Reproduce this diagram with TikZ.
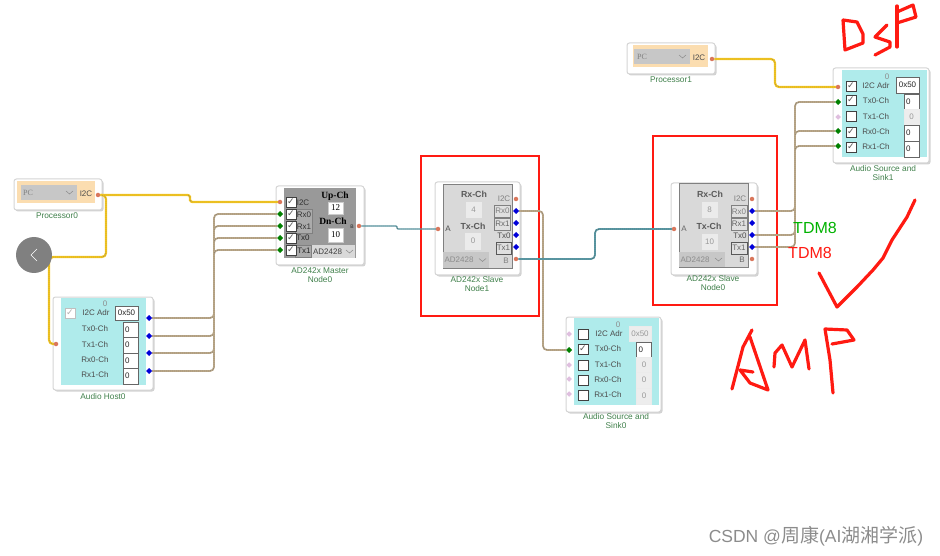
\documentclass[tikz,border=0pt]{standalone}
\usepackage{fontspec}
\setmainfont{Liberation Sans}
\newfontfamily\serifface{Liberation Serif}
\newfontfamily\checkface{DejaVu Sans}
\newfontfamily\cjkface{Noto Sans CJK SC}
\usetikzlibrary{shapes.geometric,shadows}
\definecolor{cardline}{HTML}{D4D4D4}
\definecolor{peach}{HTML}{FBDDB0}
\definecolor{aqua}{HTML}{AFEBEB}
\definecolor{captiongreen}{HTML}{3F7F4A}
\definecolor{portred}{HTML}{D9775C}
\definecolor{wireyellow}{HTML}{F4C51C}
\definecolor{wiretan}{HTML}{BBA888}
\definecolor{wireteal}{HTML}{5A9AA6}
\definecolor{markred}{HTML}{FF1A12}
\begin{document}
\begin{tikzpicture}[x=1pt,y=-1pt,
every node/.style={inner sep=0pt, outer sep=0pt, font=\fontsize{8}{9}\selectfont, text=black!70},
card/.style={rectangle, draw=cardline, fill=white, line width=1pt, rounded corners=2.5pt,
  drop shadow={shadow xshift=1.5pt, shadow yshift=-1.5pt, fill=black!25, opacity=.7}},
slavebody/.style={rectangle, draw=black!50, fill=black!15, minimum width=69pt, minimum height=84pt},
combo/.style={rectangle, fill=black!22, text=black!45, align=left},
valbox/.style={rectangle, draw=black!60, fill=white, text=black!85, minimum width=15pt, minimum height=15.5pt},
numbox/.style={valbox, text width=11pt, align=left},
offbox/.style={rectangle, draw=black!8, fill=black!7, text=black!40, minimum width=15pt, minimum height=15.5pt},
tabbox/.style={rectangle, draw=black!50, fill=black!12, text=black!60, minimum width=16pt, minimum height=12pt},
chk/.style={rectangle, draw=black!75, fill=white, minimum size=9.5pt, text=black!65, font=\checkface\fontsize{9}{9}\selectfont},
offchk/.style={rectangle, draw=black!25, fill=white, minimum size=9.5pt, text=black!30, font=\checkface\fontsize{9}{9}\selectfont},
orangeport/.style={circle, fill=portred, minimum size=4.5pt},
blueport/.style={diamond, fill=blue!85!black, minimum size=6pt},
greenport/.style={diamond, fill=green!50!black, minimum size=6pt},
pinkport/.style={diamond, fill=violet!25, minimum size=5.5pt},
caption/.style={text=captiongreen, font=\fontsize{8.3}{9}\selectfont, align=center},
heading/.style={font=\bfseries\fontsize{8.8}{10}\selectfont, text=black!65},
masterhead/.style={text=black, font=\serifface\bfseries\fontsize{9.5}{11}\selectfont},
masternum/.style={valbox, draw=black!20, text=black, font=\serifface\fontsize{9}{10}\selectfont},
pcname/.style={text=black!50, font=\serifface\fontsize{8}{9}\selectfont},
yellowwire/.style={draw=wireyellow, line width=2.2pt, rounded corners=4pt,
  postaction={draw=black!55, line width=.35pt, dash pattern=on 1pt off 1pt}},
tanwire/.style={draw=wiretan, line width=1.8pt, rounded corners=4pt,
  postaction={draw=black!60, line width=.35pt, dash pattern=on 1pt off 1pt}},
tealwire/.style={draw=wireteal, line width=1.8pt, rounded corners=4pt,
  postaction={draw=black!70, line width=.35pt, dash pattern=on 1pt off 1pt}},
redbox/.style={rectangle, draw=markred, line width=1.6pt},
hand/.style={draw=markred, line width=3.2pt, line cap=round, line join=round},
chev/.style={draw=black!45, line width=.5pt}
]
\path[use as bounding box] (0,0) rectangle (940,556);
% marker frames
\node (frame1) at (480,236) [redbox, minimum width=118pt, minimum height=160pt] {};
\node (frame0) at (715,220.5) [redbox, minimum width=124pt, minimum height=169pt] {};
% Processor0
\node (p0) at (58,194.5) [card, minimum width=88pt, minimum height=31pt] {};
\node (p0b) at (56,192) [rectangle, fill=peach, minimum width=78pt, minimum height=22pt] {};
\node (p0c) at (49,192.5) [combo, minimum width=56pt, minimum height=15pt] {};
\node (p0t) at (28,192.5) [pcname] {PC};
\node (p0l) at (86,194) {I2C};
\node (p0i) at (98,195) [orangeport] {};
\node (p0n) at (57,216) [caption] {Processor0};
\draw[chev] (66,191) -- (69.5,194) -- (73,191);
% Processor1
\node (p1) at (671,58.5) [card, minimum width=88pt, minimum height=31pt] {};
\node (p1b) at (670.5,56) [rectangle, fill=peach, minimum width=75pt, minimum height=22pt] {};
\node (p1c) at (662,56.5) [combo, minimum width=56pt, minimum height=15pt] {};
\node (p1t) at (642,57) [pcname] {PC};
\node (p1l) at (699,58) {I2C};
\node (p1i) at (712,59) [orangeport] {};
\node (p1n) at (671,80) [caption] {Processor1};
\draw[chev] (679,55) -- (682.5,58) -- (686,55);
% Audio Host0
\node (h0) at (103,343.5) [card, minimum width=100pt, minimum height=93pt] {};
\node (h0b) at (103.5,341.5) [rectangle, fill=aqua, minimum width=85pt, minimum height=87pt] {};
\node (h0z) at (105,304) [text=black!45] {0};
\node (h0c) at (70,313) [offchk] {✓};
\node (h0a) at (96,313) {I2C Adr};
\node (h0v) at (126.5,313) [valbox, minimum width=23pt, minimum height=14pt] {0x50};
\node (h0l0) at (95,329) {Tx0-Ch};
\node (h0l1) at (95,345) {Tx1-Ch};
\node (h0l2) at (95,360) {Rx0-Ch};
\node (h0l3) at (95,375) {Rx1-Ch};
\node (h0v0) at (130.5,329.5) [numbox] {0};
\node (h0v1) at (130.5,345) [numbox] {0};
\node (h0v2) at (130.5,360.5) [numbox] {0};
\node (h0v3) at (130.5,376) [numbox] {0};
\node (h0i) at (56,344) [orangeport] {};
\node (h0p0) at (149,318) [blueport] {};
\node (h0p1) at (149,336) [blueport] {};
\node (h0p2) at (149,353) [blueport] {};
\node (h0p3) at (149,371) [blueport] {};
\node (h0n) at (103,397) [caption] {Audio Host0};
% Master Node0
\node (m0) at (320,225.5) [card, minimum width=88pt, minimum height=79pt] {};
\node (m0b) at (320,223) [rectangle, fill=black!40, minimum width=72pt, minimum height=70pt] {};
\node (m0r) at (303.5,221) [tabbox, fill=black!33, minimum width=17pt, minimum height=24pt] {};
\node (m0s) at (303,251) [tabbox, fill=black!33, minimum height=12pt] {};
\node (m0k0) at (291,202) [chk] {✓};
\node (m0k1) at (291,214) [chk] {✓};
\node (m0k2) at (291,226) [chk] {✓};
\node (m0k3) at (291,238) [chk] {✓};
\node (m0k4) at (291,250) [chk] {✓};
\node (m0l0) at (303,202.5) [text=black!80] {I2C};
\node (m0l1) at (304,215) [text=black!80] {Rx0};
\node (m0l2) at (304,227) [text=black!80] {Rx1};
\node (m0l3) at (303,238) [text=black!85] {Tx0};
\node (m0l4) at (304,250.5) [text=black!85] {Tx1};
\node (m0up) at (335,196) [masterhead] {Up-Ch};
\node (m0v0) at (335.5,208) [masternum, minimum height=12pt] {12};
\node (m0dn) at (333,221) [masterhead] {Dn-Ch};
\node (m0v1) at (335.5,235) [masternum, minimum height=14pt] {10};
\node (m0c) at (333.5,251.5) [combo, fill=black!15, text=black!75, minimum width=43pt, minimum height=13pt] {AD2428\hspace{12pt}};
\node (m0l5) at (352,227) [text=black!85, font=\fontsize{5}{6}\selectfont] {B};
\node (m0i) at (280,202) [orangeport] {};
\node (m0p0) at (280,214) [greenport] {};
\node (m0p1) at (280,226) [greenport] {};
\node (m0p2) at (280,238) [greenport] {};
\node (m0p3) at (280,250) [greenport] {};
\node (m0o) at (359,226) [orangeport] {};
\node (m0n) at (320,275.5) [caption] {AD242x Master\\Node0};
\draw[chev] (346,250) -- (349.5,253) -- (353,250);
% Slave Node1
\node (s1) at (477.5,228.5) [card, minimum width=85pt, minimum height=93pt] {};
\node (s1b) at (477.5,226) [slavebody] {};
\node (s1h0) at (474,194) [heading] {Rx-Ch};
\node (s1v0) at (473.5,209.5) [offbox, fill=white!92!black, draw=white!92!black] {4};
\node (s1h1) at (473,226) [heading] {Tx-Ch};
\node (s1v1) at (473,241) [offbox, fill=white!92!black, draw=white!92!black] {0};
\node (s1c) at (466,260) [combo, minimum width=46pt, minimum height=16pt] {AD2428\hspace{14pt}};
\node (s1l0) at (504,199) [text=black!50] {I2C};
\node (s1t0) at (502.5,211) [tabbox, text=black!50] {Rx0};
\node (s1t1) at (502.5,224) [tabbox] {Rx1};
\node (s1l2) at (504,236) {Tx0};
\node (s1t3) at (503.5,248) [tabbox, draw=black!65, minimum width=15pt] {Tx1};
\node (s1l4) at (506,261) [text=black!50] {B};
\node (s1l5) at (448,229) {A};
\node (s1a) at (438,229) [orangeport] {};
\node (s1i) at (516,199) [orangeport] {};
\node (s1p0) at (516,211) [blueport] {};
\node (s1p1) at (516,223) [blueport] {};
\node (s1p2) at (516,235) [blueport] {};
\node (s1p3) at (516,247) [blueport] {};
\node (s1o) at (516,259) [orangeport] {};
\node (s1n) at (477,284.5) [caption] {AD242x Slave\\Node1};
\draw[chev] (479,258.5) -- (482.5,261.5) -- (486,258.5);
% Slave Node0
\node (s0) at (714,229) [card, minimum width=86pt, minimum height=92pt] {};
\node (s0b) at (713.5,225.5) [slavebody] {};
\node (s0h0) at (710,194) [heading] {Rx-Ch};
\node (s0v0) at (709.5,209.5) [offbox, fill=white!92!black, draw=white!92!black] {8};
\node (s0h1) at (709,226) [heading] {Tx-Ch};
\node (s0v1) at (709.5,241.5) [offbox, fill=white!92!black, draw=white!92!black] {10};
\node (s0c) at (702,259.5) [combo, minimum width=46pt, minimum height=15pt] {AD2428\hspace{14pt}};
\node (s0l0) at (740,199) [text=black!50] {I2C};
\node (s0t0) at (739,211.5) [tabbox, text=black!50] {Rx0};
\node (s0t1) at (739,224) [tabbox] {Rx1};
\node (s0l2) at (740,236) {Tx0};
\node (s0t3) at (739,248) [tabbox, draw=black!65] {Tx1};
\node (s0l4) at (742,260) [text=black!60] {B};
\node (s0l5) at (684,229) [text=black!60] {A};
\node (s0a) at (674,229) [orangeport] {};
\node (s0i) at (752,199) [orangeport] {};
\node (s0p0) at (752,211) [blueport] {};
\node (s0p1) at (752,223) [blueport] {};
\node (s0p2) at (752,235) [blueport] {};
\node (s0p3) at (752,247) [blueport] {};
\node (s0o) at (752,259) [orangeport] {};
\node (s0n) at (713,283.5) [caption] {AD242x Slave\\Node0};
\draw[chev] (715,258) -- (718.5,261) -- (722,258);
% Audio Source and Sink0
\node (a0) at (613.5,364.5) [card, minimum width=95pt, minimum height=95pt] {};
\node (a0b) at (616.5,361.5) [rectangle, fill=aqua, minimum width=85pt, minimum height=87pt] {};
\node (a0z) at (618,325) [text=black!45] {0};
\node (a0a) at (609,334) {I2C Adr};
\node (a0v) at (640,333.5) [offbox, minimum width=22pt, minimum height=15pt] {0x50};
\node (a0l0) at (608,349) {Tx0-Ch};
\node (a0l1) at (608,365) {Tx1-Ch};
\node (a0l2) at (608,380) {Rx0-Ch};
\node (a0l3) at (608,395) {Rx1-Ch};
\node (a0k0) at (583,334) [chk] {};
\node (a0k1) at (583,349) [chk] {✓};
\node (a0k2) at (583,365) [chk] {};
\node (a0k3) at (583,380) [chk] {};
\node (a0k4) at (583,395) [chk] {};
\node (a0v0) at (644,349.5) [numbox] {0};
\node (a0v1) at (644,364.5) [offbox] {0};
\node (a0v2) at (644,380) [offbox] {0};
\node (a0v3) at (644,396) [offbox] {0};
\node (a0q0) at (569,334) [pinkport] {};
\node (a0p) at (569,350) [greenport] {};
\node (a0q1) at (569,365) [pinkport] {};
\node (a0q2) at (569,379) [pinkport] {};
\node (a0q3) at (569,394) [pinkport] {};
\node (a0n) at (616,421.5) [caption] {Audio Source and\\Sink0};
% Audio Source and Sink1
\node (a1) at (881,115.5) [card, minimum width=96pt, minimum height=95pt] {};
\node (a1b) at (884.5,113.5) [rectangle, fill=aqua, minimum width=85pt, minimum height=87pt] {};
\node (a1z) at (887,77) [text=black!45] {0};
\node (a1a) at (876,86) {I2C Adr};
\node (a1v) at (907.5,85) [valbox, minimum width=23pt, minimum height=16pt] {0x50};
\node (a1l0) at (876,101) {Tx0-Ch};
\node (a1l1) at (876,117) {Tx1-Ch};
\node (a1l2) at (876,132) {Rx0-Ch};
\node (a1l3) at (876,147) {Rx1-Ch};
\node (a1k0) at (851,86) [chk] {✓};
\node (a1k1) at (851,100) [chk] {✓};
\node (a1k2) at (851,116) [chk] {};
\node (a1k3) at (851,132) [chk] {✓};
\node (a1k4) at (851,147) [chk] {✓};
\node (a1v0) at (911.5,101.5) [numbox] {0};
\node (a1v1) at (911.5,117) [offbox] {0};
\node (a1v2) at (911.5,133) [numbox] {0};
\node (a1v3) at (911.5,149) [numbox] {0};
\node (a1i) at (838,87) [orangeport] {};
\node (a1p0) at (838,102) [greenport] {};
\node (a1q) at (838,117) [pinkport] {};
\node (a1p1) at (838,131) [greenport] {};
\node (a1p2) at (838,146) [greenport] {};
\node (a1n) at (883,173.5) [caption] {Audio Source and\\Sink1};
% connectors
\coordinate (yk0) at (190,198.5);
\coordinate (yk1) at (106,257);
\coordinate (yk2) at (49,300);
\coordinate (yk3) at (775,73);
\coordinate (tk0) at (214,280);
\coordinate (tk1) at (543,280);
\coordinate (tk2) at (795,170);
\coordinate (bk0) at (397,227.5);
\coordinate (bk1) at (595,245);
\draw[yellowwire, rounded corners=2.5pt] (p0i) -| (yk0) |- (m0i);
\draw[yellowwire] (p0i) -| (yk1) -| (yk2) |- (h0i);
\draw[yellowwire] (p1i) -| (yk3) |- (a1i);
\draw[tanwire] (h0p0) -| (tk0) |- (m0p0);
\draw[tanwire] (h0p1) -| (tk0) |- (m0p1);
\draw[tanwire] (h0p2) -| (tk0) |- (m0p2);
\draw[tanwire] (h0p3) -| (tk0) |- (m0p3);
\draw[tanwire] (s1p0) -| (tk1) |- (a0p);
\draw[tanwire] (s0p0) -| (tk2) |- (a1p0);
\draw[tanwire] (s0p2) -| (tk2) |- (a1p1);
\draw[tanwire] (s0p3) -| (tk2) |- (a1p2);
\draw[tealwire, line width=1.2pt, rounded corners=1pt] (m0o) -| (bk0) |- (s1a);
\draw[tealwire] (s1o) -| (bk1) |- (s0a);
% notes
\node (tdmg) at (815,228) [text=green!70!black, font=\fontsize{16}{17}\selectfont] {TDM8};
\node (tdmr) at (810,253) [text=markred, font=\fontsize{16}{17}\selectfont] {TDM8};
\node (back) at (34,255) [circle, fill=black!50, minimum size=36pt] {};
\draw[white, line width=.7pt] (37,249) -- (31,255) -- (37,261);
\draw[hand] (843,20) -- (845,50) -- (863,43) -- (863,34) -- (857,22) -- (843,20);
\draw[hand] (887,25) -- (875,37) -- (890,42) -- (890,47) -- (875,55);
\draw[hand] (897,47) -- (897,6);
\draw[hand] (897,12) -- (913,5) -- (916,17) -- (897,23);
\draw[hand] (915,200) -- (907,217) -- (892,240) -- (883,258) -- (873,270) -- (857,287) -- (837,307) -- (819,273);
\draw[hand] (752,330) -- (743,347) -- (732,389);
\draw[hand] (750,337) -- (768,390) -- (750,383) -- (740,370) -- (753,372);
\draw[hand] (774,367) -- (775,353) -- (782,345) -- (792,367) -- (805,340) -- (809,369);
\draw[hand] (833,393) -- (830,360) -- (825,329) -- (847,330) -- (854,340) -- (832,344);
\node (mark) at (816,536) [text=black!45, font=\fontsize{17.5}{19}\selectfont] {CSDN @{\cjkface\fontsize{19}{19}\selectfont 周康}(AI{\cjkface\fontsize{19}{19}\selectfont 湖湘学派})};
\end{tikzpicture}
\end{document}
